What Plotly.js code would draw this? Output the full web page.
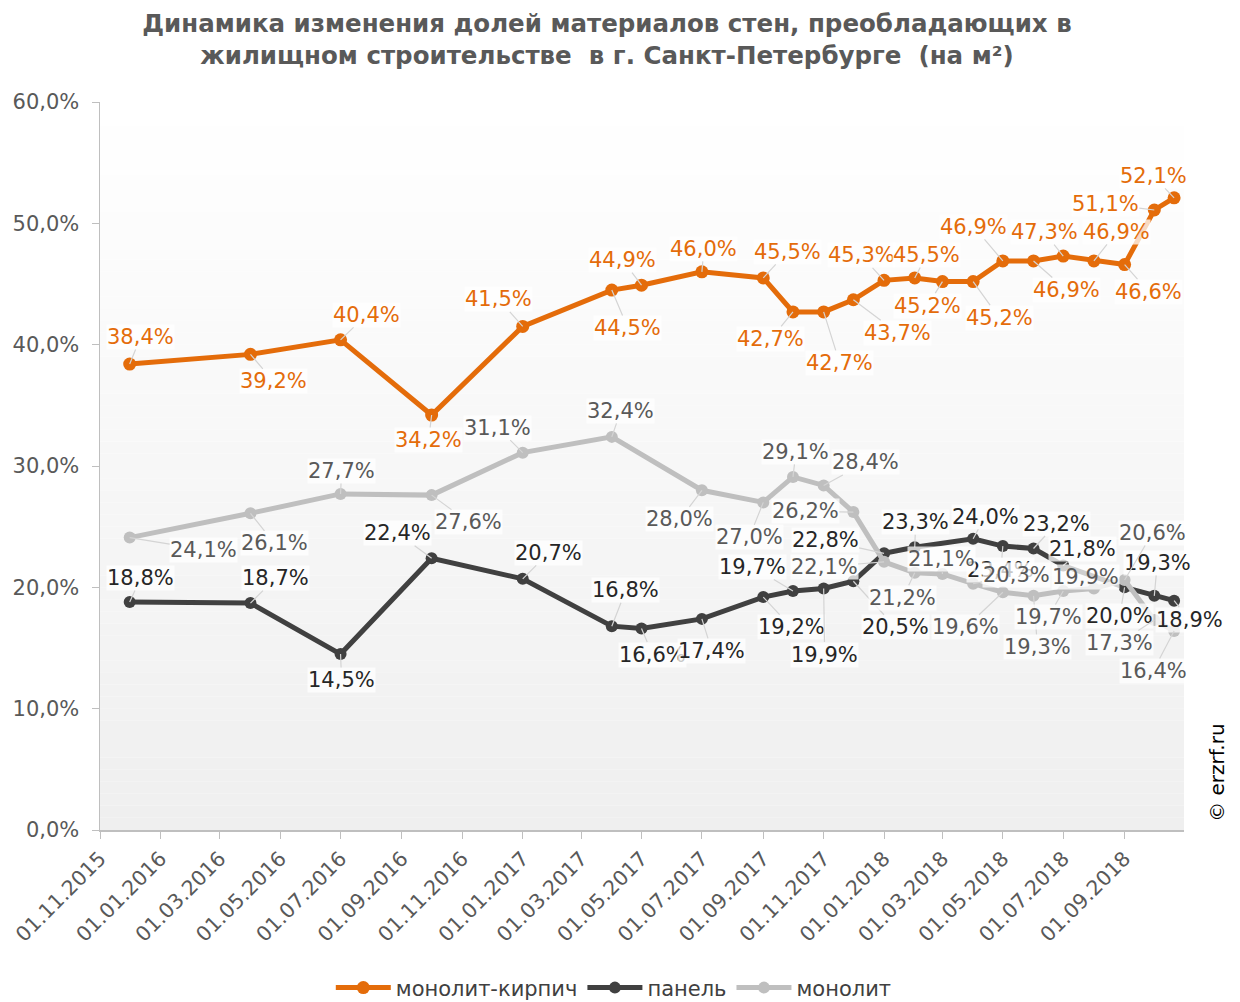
<!DOCTYPE html>
<html>
<head>
<meta charset="utf-8">
<script src="https://cdn.plot.ly/plotly-3.0.1.min.js"></script>
<style>html,body{margin:0;padding:0;background:#fff;}#chart{width:1240px;height:1002px;}</style>
</head>
<body>
<div id="chart"></div>
<script>
// ---- data ----
const orangeName = 'монолит-кирпич';
const darkName = 'панель';
const greyName = 'монолит';

const orangeDates = ['2015-12-01','2016-04-01','2016-07-01','2016-10-01','2017-01-01','2017-04-01','2017-05-01','2017-07-01','2017-09-01','2017-10-01','2017-11-01','2017-12-01','2018-01-01','2018-02-01','2018-03-01','2018-04-01','2018-05-01','2018-06-01','2018-07-01','2018-08-01','2018-09-01','2018-10-01','2018-10-21'];
const orangeVals = [38.4,39.2,40.4,34.2,41.5,44.5,44.9,46.0,45.5,42.7,42.7,43.7,45.3,45.5,45.2,45.2,46.9,46.9,47.3,46.9,46.6,51.1,52.1];

const darkDates = ['2015-12-01','2016-04-01','2016-07-01','2016-10-01','2017-01-01','2017-04-01','2017-05-01','2017-07-01','2017-09-01','2017-10-01','2017-11-01','2017-12-01','2018-01-01','2018-02-01','2018-04-01','2018-05-01','2018-06-01','2018-07-01','2018-09-01','2018-10-01','2018-10-21'];
const darkVals = [18.8,18.7,14.5,22.4,20.7,16.8,16.6,17.4,19.2,19.7,19.9,20.5,22.8,23.3,24.0,23.4,23.2,21.8,20.0,19.3,18.9];

const greyDates = ['2015-12-01','2016-04-01','2016-07-01','2016-10-01','2017-01-01','2017-04-01','2017-07-01','2017-09-01','2017-10-01','2017-11-01','2017-12-01','2018-01-01','2018-02-01','2018-03-01','2018-04-01','2018-05-01','2018-06-01','2018-07-01','2018-08-01','2018-09-01','2018-10-01','2018-10-21'];
const greyVals = [24.1,26.1,27.7,27.6,31.1,32.4,28.0,27.0,29.1,28.4,26.2,22.1,21.2,21.1,20.3,19.6,19.3,19.7,19.9,20.6,17.3,16.4];

// ---- label placement (pixel offsets from point to label centre) ----
const orangeOff = [[11,-27],[23,27],[26,-25],[-3,25],[-24,-27],[16,38],[-19,-25],[2,-23],[24,-26],[-22,27],[16,51],[44,33],[-23,-25],[12,-23],[-15,24],[26,36],[-29,-34],[33,29],[-19,-24],[23,-29],[24,27],[-49,-6],[-21,-22]];
const darkOff = [[11,-24],[25,-25],[1,26],[-34,-25],[26,-26],[14,-36],[11,26],[10,32],[28,30],[-40,-24],[1,66],[42,46],[-59,-13],[1,-25],[12,-22],[-2,24],[23,-25],[19,-16],[-5,29],[3,-33],[15,19]];
const greyOff = [[74,12],[24,30],[1,-23],[37,27],[-25,-25],[9,-26],[-22,29],[-14,35],[3,-25],[42,-23],[-48,-1],[-60,5],[-12,25],[-1,-15],[43,-9],[-37,35],[4,51],[-15,26],[-8,-12],[28,-47],[-35,23],[-21,40]];

// ---- styles ----
const FONT = 'DejaVu Sans, Liberation Sans, Arial, sans-serif';
const cOrange = '#E46C0A', cDark = '#404040', cGrey = '#BFBFBF';
const tOrange = '#E46C0A', tDark = '#262626', tGrey = '#595959';

function fmt(v){ return v.toFixed(1).replace('.', ',') + '%'; }

function trace(name, x, y, color, msize){
  return {
    type:'scatter', mode:'lines+markers', name:name, x:x, y:y,
    line:{color:color, width:5}, marker:{color:color, size:msize},
    hoverinfo:'skip'
  };
}

const data = [
  trace(orangeName, orangeDates, orangeVals, cOrange, 13),
  trace(darkName, darkDates, darkVals, cDark, 12),
  trace(greyName, greyDates, greyVals, cGrey, 12)
];

const annotations = [];
function addLabels(x, y, off, color){
  for (let i = 0; i < y.length; i++){
    annotations.push({
      x: x[i], y: y[i], xref:'x', yref:'y',
      text: fmt(y[i]), showarrow:true, arrowhead:0, arrowwidth:1.2,
      arrowcolor:'#d4d4d4', standoff:0,
      ax: off[i][0], ay: off[i][1],
      font:{family:FONT, size:21, color:color},
      bgcolor:'rgba(255,255,255,0.75)', borderpad:0
    });
  }
}
addLabels(orangeDates, orangeVals, orangeOff, tOrange);
addLabels(darkDates, darkVals, darkOff, tDark);
addLabels(greyDates, greyVals, greyOff, tGrey);

annotations.push({
  xref:'paper', yref:'paper', x:1.031, y:0.078, xanchor:'center', yanchor:'middle',
  text:'© erzrf.ru', showarrow:false, textangle:-90,
  font:{family:FONT, size:20, color:'#000000'}
});

// background gradient of the plot area
const shapes = [];
const N = 60;
for (let i = 0; i < N; i++){
  const t = (i + 0.5) / N; // 0 bottom .. 1 top
  const g = Math.round(239 + (255 - 239) * t);
  shapes.push({type:'rect', xref:'paper', yref:'paper', x0:0, x1:1,
    y0:i/N, y1:(i+1)/N, line:{width:0}, fillcolor:`rgb(${g},${g},${g})`, layer:'below'});
}

const layout = {
  width:1240, height:1002,
  margin:{l:100, r:56, t:102, b:172},
  paper_bgcolor:'#ffffff', plot_bgcolor:'rgba(0,0,0,0)',
  separators:', ',
  font:{family:FONT, color:'#595959'},
  title:{
    text:'<b>Динамика изменения долей материалов стен, преобладающих в<br>жилищном строительстве  в г. Санкт-Петербурге  (на м²)</b>',
    font:{family:FONT, size:24.5, color:'#595959'},
    xref:'container', x:0.4895, xanchor:'center',
    yref:'container', y:0.968, yanchor:'top'
  },
  xaxis:{
    type:'date', range:['2015-11-01','2018-10-31'],
    tick0:'2015-11-01', dtick:'M2', tickformat:'%d.%m.%Y',
    tickangle:-45, ticks:'outside', ticklen:7, tickcolor:'#bfbfbf',
    showline:true, linecolor:'#bfbfbf', linewidth:1.5,
    showgrid:false, zeroline:false,
    tickfont:{family:FONT, size:20.5, color:'#595959'}
  },
  yaxis:{
    range:[0,60], dtick:10, tickformat:'.1f', ticksuffix:'%',
    ticks:'outside', ticklen:7, tickcolor:'#bfbfbf',
    showline:true, linecolor:'#bfbfbf', linewidth:1.5,
    showgrid:false, zeroline:false, ticklabelstandoff:8,
    tickfont:{family:FONT, size:21, color:'#595959'}
  },
  showlegend:true,
  legend:{
    orientation:'h', xref:'container', x:0.495, xanchor:'center',
    yref:'container', y:0.014, yanchor:'middle',
    font:{family:FONT, size:21, color:'#404040'}, itemwidth:55,
    bgcolor:'rgba(0,0,0,0)'
  },
  annotations:annotations,
  shapes:shapes
};

Plotly.newPlot('chart', data, layout, {displayModeBar:false, staticPlot:true});
</script>
</body>
</html>
